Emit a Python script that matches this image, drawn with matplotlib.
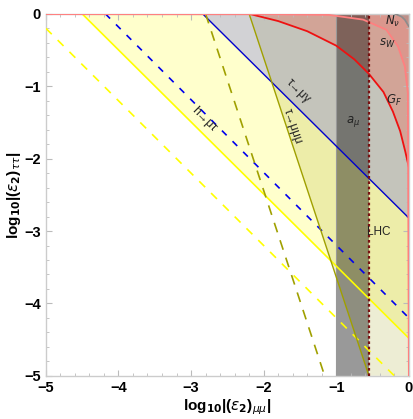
import numpy as np
import matplotlib.pyplot as plt
from matplotlib.ticker import MultipleLocator

plt.rcParams["font.family"] = ["Liberation Sans", "DejaVu Sans"]
plt.rcParams["mathtext.fontset"] = "dejavusans"

# ---- data (log10 |eps_mumu|, log10 |eps_tautau|) ----
# straight constraint lines: two end points each
h_mutau_x = [-4.50, 0.00]
h_mutau_y = [0.00, -4.48]
h_mutau_future_x = [-5.00, -0.20]
h_mutau_future_y = [-0.20, -5.00]
mugamma_future_x = [-4.18, 0.00]
mugamma_future_y = [0.00, -4.20]
tau_mugamma_x = [-2.84, 0.00]
tau_mugamma_y = [0.00, -2.82]
tau_3mu_x = [-2.20, -0.55]
tau_3mu_y = [0.00, -5.00]
tau_3mu_future_x = [-2.80, -1.16]
tau_3mu_future_y = [0.00, -5.00]

# curved bounds
gf_x = [-2.20, -1.80, -1.40, -1.00, -0.75, -0.55, -0.35, -0.22, -0.12, -0.05, 0.00]
gf_y = [0.00, -0.10, -0.24, -0.44, -0.63, -0.83, -1.08, -1.35, -1.62, -1.90, -2.12]
sw_x = [-5.00, -2.00, -1.10, -0.63, -0.31, -0.15, -0.055, -0.014, 0.00]
sw_y = [-0.004, -0.006, -0.015, -0.08, -0.22, -0.45, -0.73, -1.09, -5.00]
nnu_x = [-0.19, -0.10, -0.055, 0.00]
nnu_y = [0.00, -0.04, -0.083, -0.175]

# vertical bounds
amu_band = [-1.00, -0.55]
lhc_x = -0.55

ticks = [-5, -4, -3, -2, -1, 0]
tick_labels = ["−5", "−4", "−3", "−2", "−1", "0"]

fig = plt.figure(figsize=(4.13, 4.19), dpi=100)
ax = fig.add_axes([0.111, 0.103, 0.879, 0.864])


def corner_poly(xs, ys):
    # region between a curve and the upper right corner
    return list(xs) + [0.0], list(ys) + [0.0]


# --- filled regions ---
px, py = corner_poly(h_mutau_x, h_mutau_y)
ax.fill(px, py, color=(1, 1, 0), alpha=0.2, lw=0, zorder=1)
px, py = [tau_3mu_x[0], tau_3mu_x[1], 0.0, 0.0], [tau_3mu_y[0], tau_3mu_y[1], -5.0, 0.0]
ax.fill(px, py, color=(0.6, 0.6, 0.0), alpha=0.17, lw=0, zorder=1)
px, py = corner_poly(tau_mugamma_x, tau_mugamma_y)
ax.fill(px, py, color=(0.3, 0.3, 0.95), alpha=0.25, lw=0, zorder=1)
px, py = corner_poly(gf_x, gf_y)
ax.fill(px, py, color=(1, 0.25, 0.15), alpha=0.24, lw=0, zorder=1)
px, py = corner_poly(sw_x, sw_y)
ax.fill(px, py, color=(1, 0.4, 0.4), alpha=0.2, lw=0, zorder=1)
px, py = corner_poly(nnu_x, nnu_y)
ax.fill(px, py, color=(0.5, 0.5, 0.5), alpha=0.3, lw=0, zorder=1)
ax.axvspan(amu_band[0], amu_band[1], color="black", alpha=0.4, lw=0, zorder=1)
ax.axvline(amu_band[0], color="#999999", lw=0.8, zorder=2)

# --- lines ---
ax.plot(h_mutau_x, h_mutau_y, color="#FFFF00", lw=1.2, zorder=3)
ax.plot(h_mutau_future_x, h_mutau_future_y, color="#FFFF00", lw=1.2,
        ls=(0, (5, 5)), zorder=3)
ax.plot(mugamma_future_x, mugamma_future_y, color="#0000EE", lw=1.2,
        ls=(0, (4, 5)), zorder=3)
ax.plot(tau_mugamma_x, tau_mugamma_y, color="#0000CC", lw=1.0, zorder=3)
ax.plot(tau_3mu_x, tau_3mu_y, color="#A0A000", lw=1.0, zorder=3)
ax.plot(tau_3mu_future_x, tau_3mu_future_y, color="#A0A000", lw=1.2,
        ls=(0, (6, 5)), zorder=3)
ax.plot(gf_x, gf_y, color="#EE1111", lw=1.3, zorder=3)
ax.plot(sw_x, sw_y, color="#FF8080", lw=1.3, zorder=3)
ax.plot(nnu_x, nnu_y, color="#8C8C8C", lw=1.2, zorder=3)
ax.axvline(lhc_x, color="#7A1010", lw=1.6, ls=(0, (1.2, 1.2)), zorder=3)

# --- labels ---
tkw = dict(ha="center", va="center", rotation_mode="anchor", fontsize=8.5,
           color="#222222", zorder=5)
ax.text(-0.23, -0.10, r"$N_\nu$", **tkw)
ax.text(-0.30, -0.41, r"$s_W$", **tkw)
ax.text(-0.20, -1.19, r"$G_F$", **tkw)
ax.text(-0.77, -1.49, r"$a_\mu$", **tkw)
ax.text(-0.42, -3.01, "LHC", **tkw)
ax.text(-1.52, -1.07, "τ→μγ", rotation=-45, **tkw)
ax.text(-1.60, -1.55, "τ→μμμ", rotation=-71, **tkw)
ax.text(-2.83, -1.45, "h→μτ", rotation=-45, **tkw)

# --- axes styling ---
ax.set_xlim(-5, 0)
ax.set_ylim(-5, 0)
ax.set_xticks(ticks, tick_labels, fontweight="bold")
ax.set_yticks(ticks, tick_labels, fontweight="bold")
ax.xaxis.set_minor_locator(MultipleLocator(0.2))
ax.yaxis.set_minor_locator(MultipleLocator(0.2))
ax.tick_params(which="both", direction="in", top=True, right=True,
               color="#BBBBBB", labelsize=10.5)
ax.tick_params(which="major", length=4, width=0.8)
ax.tick_params(which="minor", length=2.5, width=0.6)
for s in ax.spines.values():
    s.set_color("#CCCCCC")
    s.set_linewidth(1.0)

ax.set_xlabel(r"log$_\mathbf{10}$|($\epsilon_\mathbf{2}$)$_{\mu\mu}$|",
              fontsize=11, fontweight="bold", labelpad=2)
ax.set_ylabel(r"log$_\mathbf{10}$|($\epsilon_\mathbf{2}$)$_{\tau\tau}$|",
              fontsize=11, fontweight="bold", labelpad=1)

fig.savefig("out.png", dpi=100)
